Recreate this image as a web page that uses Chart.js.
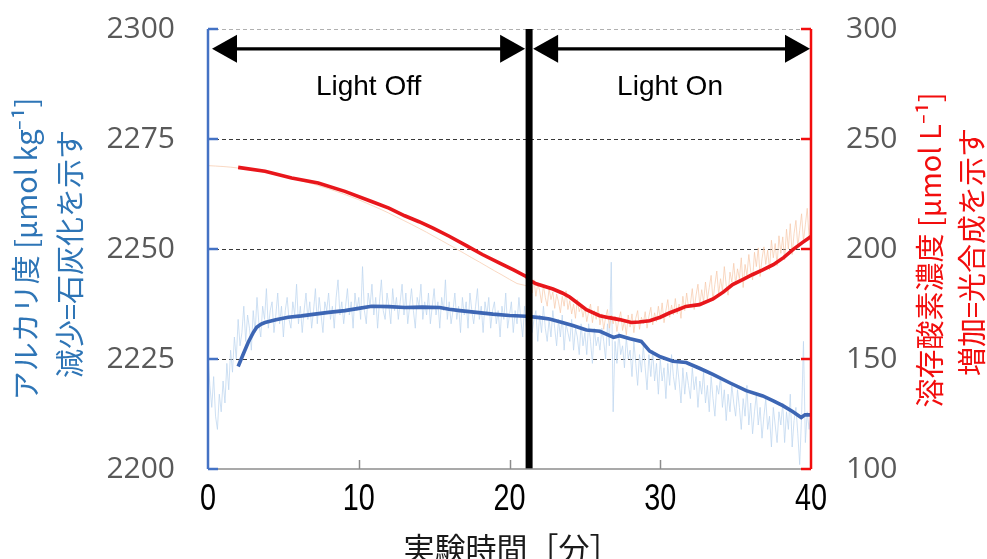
<!DOCTYPE html>
<html>
<head>
<meta charset="utf-8">
<script src="https://cdn.jsdelivr.net/npm/chart.js@4.4.1/dist/chart.umd.min.js"></script>
<style>
html,body{margin:0;padding:0;background:#fff;}
canvas{display:block;}
</style>
</head>
<body>
<canvas id="c" width="987" height="559"></canvas>
<script>
// ---------- DATA ----------
const rawAlkStep = 0.125; // minutes between raw alkalinity samples
const rawAlkalinity = [
2226,2219,2214,2221,2212,2209,2217,2213,
2220,2215,2224,2218,2227,2222,2230,2225,
2234,2228,2231,2237,2229,2235,2232,2227,
2236,2231,2239,2233,2230,2237,2234,2241,
2232,2236,2238,2231,2235,2240,2233,2237,
2230,2236,2239,2234,2232,2238,2235,2242,
2233,2237,2231,2236,2240,2234,2238,2232,
2236,2241,2233,2239,2235,2231,2238,2236,
2240,2234,2237,2232,2239,2243,2235,2238,
2233,2237,2241,2235,2238,2232,2240,2236,
2239,2234,2246,2236,2233,2240,2237,2242,
2235,2239,2232,2238,2243,2236,2234,2240,
2237,2233,2241,2236,2239,2234,2238,2242,
2235,2240,2233,2237,2241,2236,2232,2239,
2237,2242,2234,2238,2235,2240,2233,2237,
2241,2235,2238,2232,2239,2236,2243,2234,
2238,2233,2236,2240,2234,2237,2231,2239,
2235,2238,2232,2240,2236,2233,2237,2241,
2234,2237,2231,2238,2235,2239,2232,2236,
2238,2233,2236,2230,2237,2234,2240,2232,
2235,2238,2231,2236,2233,2239,2234,2230,
2237,2232,2235,2239,2231,2234,2236,2229,
2235,2231,2237,2232,2229,2234,2230,2236,
2232,2228,2234,2230,2235,2227,2233,2231,
2229,2234,2227,2232,2230,2226,2233,2228,
2231,2226,2233,2229,2224,2232,2228,2230,
2227,2232,2229,2225,2233,2228,2247,2213,
2229,2224,2231,2226,2228,2223,2230,2225,
2227,2221,2229,2224,2219,2226,2222,2228,
2223,2218,2226,2221,2227,2220,2224,2217,
2225,2220,2223,2216,2224,2219,2226,2221,
2218,2224,2220,2215,2223,2217,2222,2219,
2216,2223,2218,2221,2214,2220,2217,2222,
2215,2219,2213,2221,2216,2212,2219,2217,
2221,2214,2218,2211,2217,2213,2219,2215,
2212,2218,2214,2209,2216,2212,2219,2210,
2215,2208,2213,2217,2210,2214,2207,2212,
2216,2209,2212,2205,2214,2210,2206,2213,
2210,2215,2206,2213,2209,2217,2205,2211,
2214,2208,2201,2212,2229,2206,2213,2209,
2213
];
const rawO2DarkStep = 0.5;   // light-off samples, from 0 min
const rawOxygenDark = [
237.9,237.7,237.5,237.2,236.8,236.4,235.9,235.2,234.6,233.8,
233.0,232.2,231.4,230.4,229.5,228.4,227.4,226.2,225.0,223.7,
222.4,220.9,219.4,217.9,216.3,214.6,212.9,211.2,209.4,207.6,
205.7,203.8,201.9,200.0,198.0,196.0,194.1,192.1,190.1,188.2,
186.2,184.3,183.5
];
const rawO2LightStart = 21.25, rawO2LightStep = 0.125; // light-on samples
const rawOxygenLight = [
183.0,189.5,180.0,186.0,178.5,184.5,
181.0,175.5,183.5,178.0,174.0,182.0,177.0,180.5,
173.0,179.5,176.0,171.0,178.5,174.0,181.0,172.5,
176.5,170.5,175.0,168.5,177.0,171.5,174.0,169.0,
173.5,167.0,171.5,175.0,166.5,172.0,168.0,174.0,
165.5,170.5,163.5,169.0,172.5,164.0,170.0,166.0,
169.5,162.5,168.0,171.5,163.0,167.5,161.0,170.0,
164.5,170.5,162.0,168.5,172.0,163.5,169.0,166.0,
171.5,164.0,169.5,173.5,165.5,171.0,167.0,174.0,
168.0,175.5,166.5,172.0,177.0,169.0,174.5,170.0,
177.5,170.5,175.0,168.5,178.5,172.0,180.0,173.5,
175.0,182.0,172.5,179.0,184.0,174.5,181.5,176.0,
185.0,177.0,182.5,188.0,176.5,184.0,190.0,179.5,
186.5,181.0,192.0,183.5,179.0,189.5,185.0,193.5,
184.0,191.0,186.5,196.0,182.5,193.0,188.0,197.5,
190.0,186.0,198.5,192.0,200.5,187.5,195.5,201.0,
193.0,199.5,190.5,204.0,196.0,202.5,192.5,206.0,
198.0,205.5,195.0,209.0,200.0,211.5,197.5,207.0,
213.0,201.0,208.5,216.0,203.5,211.0,218.5,205.0,
214.0
];
const smoothAlkT = [2.0,2.3,2.67,3.0,3.23,3.5,3.78,4.5,5.32,6.2,7.09,8.0,9.08,10.0,10.85,12.0,13.05,14.2,15.37,16.0,16.7,17.8,18.9,20.0,21.1,22.0,22.66,23.5,24.2,25.1,26.0,26.9,27.3,28.0,28.74,29.3,30.0,30.84,31.72,32.6,33.49,34.6,35.7,36.8,37.5,38.13,38.8,39.35,39.6,40.0];
const smoothAlkV = [2223.3,2225.8,2228.8,2231.0,2232.2,2232.9,2233.3,2233.9,2234.5,2234.8,2235.2,2235.6,2236.0,2236.5,2237.0,2236.9,2236.7,2236.8,2236.7,2236.3,2236.0,2235.6,2235.2,2234.9,2234.7,2234.4,2234.1,2233.3,2232.6,2231.6,2231.3,2229.9,2230.3,2229.6,2229.0,2226.8,2225.5,2224.5,2224.2,2222.9,2221.5,2219.6,2217.8,2216.6,2215.5,2214.4,2213.0,2211.7,2212.3,2212.3];
const smoothO2T = [2.0,3.78,5.55,7.31,9.08,10.85,12.0,13.05,14.0,14.93,16.0,17.14,18.2,19.35,20.3,21.1,21.4,21.77,22.88,23.5,23.99,24.6,25.1,25.98,26.6,27.3,28.08,28.6,29.3,30.0,30.6,31.2,31.7,32.6,33.5,34.2,34.8,35.5,36.1,36.8,37.5,38.2,38.8,39.4,40.0];
const smoothO2V = [237.1,235.3,232.3,230.0,226.2,221.6,218.6,215.1,212.4,209.5,205.8,201.5,197.5,193.6,190.4,187.5,185.5,184.2,181.8,180.0,178.2,175.0,172.4,169.7,168.8,167.9,166.6,166.8,167.4,169.0,170.9,172.5,173.9,174.7,177.3,180.5,183.8,186.2,188.3,190.5,192.9,196.2,199.7,202.8,205.7];
const xTicks = [0,10,20,30,40];
const leftTicks = [2200,2225,2250,2275,2300];
const rightTicks = [100,150,200,250,300];
const lightSwitchT = 21.3;
const phaseBounds = [0, 21.3, 40];
const phaseLabels = ['Light Off', 'Light On'];
const leftTitle = ['アルカリ度 [μmol kg⁻¹]', '減少=石灰化を示す'];
const rightTitle = ['溶存酸素濃度 [μmol L⁻¹]', '増加=光合成を示す'];
const xTitle = '実験時間［分］';

// ---------- CHART ----------
const pts = (ts, vs) => ts.map((t, i) => ({x: t, y: vs[i]}));
const rawAlkPts = rawAlkalinity.map((v, i) => ({x: i * rawAlkStep, y: v}));
const rawO2Pts = rawOxygenDark.map((v, i) => ({x: i * rawO2DarkStep, y: v}))
  .concat(rawOxygenLight.map((v, i) => ({x: rawO2LightStart + i * rawO2LightStep, y: v})));

const BLUE = '#3d66b4', RED = '#e8161b';
const CJK = '"Noto Sans CJK JP", sans-serif';

const decor = {
  id: 'decor',
  beforeDatasetsDraw(chart) {
    const {ctx, chartArea: a, scales: {y}} = chart;
    ctx.save();
    ctx.lineWidth = 1;
    ctx.setLineDash([4, 3]);
    leftTicks.forEach(v => {
      if (v === leftTicks[0]) return;
      const py = Math.round(y.getPixelForValue(v)) + 0.5;
      ctx.strokeStyle = v === leftTicks[leftTicks.length - 1] ? '#b0b0b0' : '#3a3a3a';
      ctx.beginPath(); ctx.moveTo(a.left, py); ctx.lineTo(a.right, py); ctx.stroke();
    });
    ctx.restore();
  },
  afterDatasetsDraw(chart) {
    const {ctx, chartArea: a, scales: {x, y, y1}} = chart;
    ctx.save();
    // bottom axis
    ctx.strokeStyle = '#8c8c8c'; ctx.lineWidth = 1.5;
    ctx.beginPath(); ctx.moveTo(a.left, a.bottom); ctx.lineTo(a.right, a.bottom); ctx.stroke();
    xTicks.slice(1, -1).forEach(t => {
      const px = Math.round(x.getPixelForValue(t)) + 0.5;
      ctx.beginPath(); ctx.moveTo(px, a.bottom); ctx.lineTo(px, a.bottom - 9); ctx.stroke();
    });
    // x tick labels (condensed)
    ctx.fillStyle = '#000';
    ctx.font = '36px "Liberation Sans", Arial, sans-serif';
    ctx.textAlign = 'center'; ctx.textBaseline = 'alphabetic';
    xTicks.forEach(t => {
      ctx.save(); ctx.translate(x.getPixelForValue(t), a.bottom + 41); ctx.scale(0.8, 1);
      ctx.fillText(String(t), 0, 0); ctx.restore();
    });
    // y tick labels
    ctx.fillStyle = '#595959';
    ctx.font = '30px "Open Sans", sans-serif';
    ctx.textBaseline = 'middle';
    ctx.textAlign = 'right';
    leftTicks.forEach(v => ctx.fillText(String(v), a.left - 33, y.getPixelForValue(v)));
    ctx.textAlign = 'left';
    rightTicks.forEach(v => ctx.fillText(String(v), a.right + 35, y1.getPixelForValue(v)));
    // left axis
    ctx.strokeStyle = '#4472c4'; ctx.lineWidth = 2.5;
    ctx.beginPath(); ctx.moveTo(a.left, a.top); ctx.lineTo(a.left, a.bottom); ctx.stroke();
    leftTicks.forEach(v => {
      const py = y.getPixelForValue(v);
      ctx.beginPath(); ctx.moveTo(a.left, py); ctx.lineTo(a.left + 10, py); ctx.stroke();
    });
    // right axis
    ctx.strokeStyle = '#f20d0d';
    ctx.beginPath(); ctx.moveTo(a.right, a.top); ctx.lineTo(a.right, a.bottom); ctx.stroke();
    rightTicks.forEach(v => {
      const py = y1.getPixelForValue(v);
      ctx.beginPath(); ctx.moveTo(a.right, py); ctx.lineTo(a.right - 10, py); ctx.stroke();
    });
    // arrows
    const ay = y.getPixelForValue(2295.5);
    const head = 25, half = 14;
    const arrow = (x1, x2) => {
      ctx.strokeStyle = '#000'; ctx.fillStyle = '#000'; ctx.lineWidth = 3.3;
      ctx.beginPath(); ctx.moveTo(x1 + head - 2, ay); ctx.lineTo(x2 - head + 2, ay); ctx.stroke();
      ctx.beginPath(); ctx.moveTo(x1, ay); ctx.lineTo(x1 + head, ay - half); ctx.lineTo(x1 + head, ay + half); ctx.closePath(); ctx.fill();
      ctx.beginPath(); ctx.moveTo(x2, ay); ctx.lineTo(x2 - head, ay - half); ctx.lineTo(x2 - head, ay + half); ctx.closePath(); ctx.fill();
    };
    for (let i = 0; i < phaseBounds.length - 1; i++) {
      const x1 = x.getPixelForValue(phaseBounds[i]) + 4;
      const x2 = x.getPixelForValue(phaseBounds[i + 1]) - (i === phaseBounds.length - 2 ? 1 : 4);
      arrow(x1, x2);
      ctx.font = '28px "Liberation Sans", Arial, sans-serif';
      ctx.textAlign = 'center'; ctx.textBaseline = 'alphabetic'; ctx.fillStyle = '#000';
      ctx.fillText(phaseLabels[i], x.getPixelForValue((phaseBounds[i] + phaseBounds[i + 1]) / 2), y.getPixelForValue(2285.1));
    }
    ctx.restore();
  },
  afterDraw(chart) {
    const {ctx} = chart;
    ctx.save();
    const vtext = (lines, xs, cy, color) => {
      ctx.fillStyle = color;
      ctx.font = '29px ' + CJK;
      ctx.textAlign = 'center'; ctx.textBaseline = 'middle';
      lines.forEach((s, i) => {
        ctx.save(); ctx.translate(xs[i], cy[i]); ctx.rotate(-Math.PI / 2);
        ctx.fillText(s, 0, 0); ctx.restore();
      });
    };
    vtext(leftTitle, [26, 70], [249, 254], '#2e75b6');
    vtext(rightTitle, [930, 972], [250, 252], '#f20d0d');
    ctx.fillStyle = '#1a1a1a';
    ctx.font = '31px ' + CJK;
    ctx.textAlign = 'center'; ctx.textBaseline = 'middle';
    ctx.fillText(xTitle, 512, 548);
    ctx.restore();
  }
};

new Chart(document.getElementById('c'), {
  type: 'line',
  data: {
    datasets: [
      {data: [{x: lightSwitchT, y: 2200}, {x: lightSwitchT, y: 2300}], yAxisID: 'y', borderColor: '#000', borderWidth: 7, pointRadius: 0, order: 0},
      {data: pts(smoothO2T, smoothO2V), yAxisID: 'y1', borderColor: RED, borderWidth: 3.6, pointRadius: 0, order: 1},
      {data: pts(smoothAlkT, smoothAlkV), yAxisID: 'y', borderColor: BLUE, borderWidth: 3.6, pointRadius: 0, order: 2},
      {data: rawO2Pts, yAxisID: 'y1', borderColor: 'rgba(247,200,168,0.7)', borderWidth: 1, pointRadius: 0, order: 3},
      {data: rawAlkPts, yAxisID: 'y', borderColor: 'rgba(190,213,239,0.75)', borderWidth: 1, pointRadius: 0, order: 4}
    ]
  },
  options: {
    responsive: false,
    animation: false,
    layout: {padding: {top: 29, left: 0, right: 0, bottom: 0}},
    plugins: {legend: {display: false}, tooltip: {enabled: false}},
    elements: {line: {tension: 0}},
    scales: {
      x: {
        type: 'linear', min: 0, max: 40,
        ticks: {display: false},
        grid: {display: false}, border: {display: false},
        afterFit: s => { s.height = 90; }
      },
      y: {
        position: 'left', min: 2200, max: 2300,
        afterBuildTicks: s => { s.ticks = leftTicks.map(v => ({value: v})); },
        ticks: {display: false},
        grid: {display: false}, border: {display: false},
        afterFit: s => { s.width = 208; }
      },
      y1: {
        position: 'right', min: 100, max: 300,
        afterBuildTicks: s => { s.ticks = rightTicks.map(v => ({value: v})); },
        ticks: {display: false},
        grid: {display: false}, border: {display: false},
        afterFit: s => { s.width = 176; }
      }
    }
  },
  plugins: [decor]
});
</script>
</body>
</html>
